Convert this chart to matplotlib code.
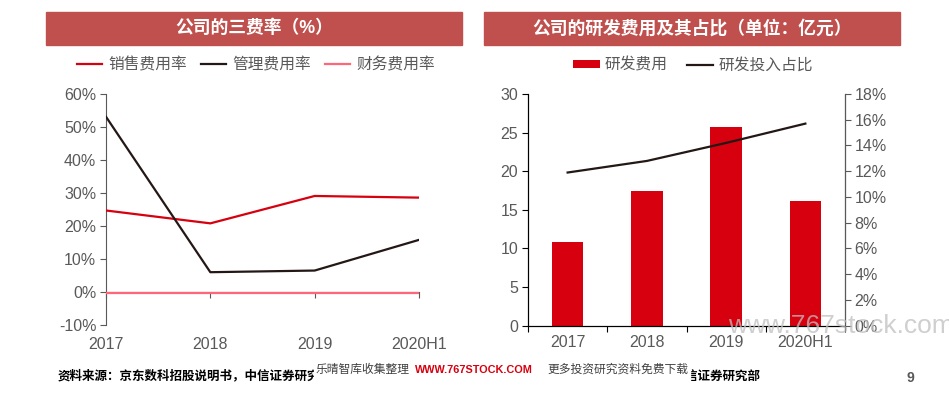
import matplotlib
matplotlib.use("Agg")
import matplotlib.pyplot as plt
import matplotlib.transforms as mtransforms
from matplotlib.patches import Rectangle
from matplotlib.ticker import FuncFormatter

plt.rcParams['font.family'] = ['Liberation Sans', 'Noto Sans CJK SC', 'DejaVu Sans']

# ---------------- data ----------------
years = ['2017', '2018', '2019', '2020H1']
sales_rate = [24.7, 20.8, 29.1, 28.6]
mgmt_rate = [53.1, 6.0, 6.5, 15.8]
fin_rate = [-0.2, -0.2, -0.2, -0.2]
rd_expense = [10.8, 17.45, 25.7, 16.2]
rd_ratio = [11.9, 12.8, 14.2, 15.7]

left_title = '公司的三费率（%）'
right_title = '公司的研发费用及其占比（单位：亿元）'
left_legend = ['销售费用率', '管理费用率', '财务费用率']
right_legend = ['研发费用', '研发投入占比']

RED = '#D7000F'
BLACK = '#231815'
PINK = '#FF6677'
GRAY = '#595959'
BAR_TITLE = '#C0504D'

W, H = 949, 396
fig = plt.figure(figsize=(W / 100, H / 100), dpi=100)


def fx(px):
    return px / W


def fy(py):
    return 1 - py / H


# ---------------- title bars ----------------
for x0, x1, t in [(46, 462, left_title), (484, 900, right_title)]:
    fig.patches.append(Rectangle((fx(x0), fy(45)), fx(x1 - x0), (45 - 12) / H,
                                 transform=fig.transFigure, color=BAR_TITLE, zorder=0))
    fig.text(fx((x0 + x1) / 2), fy(28.5), t, color='white', fontsize=12.8,
             fontweight='bold', ha='center', va='center')

# ---------------- left chart ----------------
ax1 = fig.add_axes([fx(106), fy(325), fx(419 - 106), (325 - 94) / H])
x = list(range(len(years)))
l1, = ax1.plot(x, sales_rate, color=RED, lw=1.6, label=left_legend[0], zorder=3)
l2, = ax1.plot(x, mgmt_rate, color=BLACK, lw=1.6, label=left_legend[1], zorder=3)
l3, = ax1.plot(x, fin_rate, color=PINK, lw=1.6, label=left_legend[2], zorder=4)
ax1.set_xlim(0, 3)
ax1.set_ylim(-10, 60)
ax1.set_yticks(range(-10, 61, 10))
ax1.yaxis.set_major_formatter(FuncFormatter(lambda v, p: f'{int(v)}%'))
for s in ['top', 'right']:
    ax1.spines[s].set_visible(False)
ax1.spines['bottom'].set_position(('data', 0))
ax1.spines['left'].set_color(GRAY)
ax1.spines['bottom'].set_color(GRAY)
ax1.set_xticks(x)
ax1.tick_params(axis='x', direction='out', length=4, color=GRAY, labelbottom=False)
ax1.tick_params(axis='y', direction='out', length=4, color=GRAY, labelcolor=GRAY,
                labelsize=11.5, pad=3)
trans = mtransforms.blended_transform_factory(ax1.transData, ax1.transAxes)
for i, yr in enumerate(years):
    ax1.text(i, -0.05, yr, transform=trans, ha='center', va='top', fontsize=11.5,
             color=GRAY, clip_on=False)
ax1.legend(handles=[l1, l2, l3], loc='center', bbox_to_anchor=(fx(256), fy(65)),
           bbox_transform=fig.transFigure, ncol=3, frameon=False, fontsize=11.3,
           handlelength=1.6, handletextpad=0.4, columnspacing=0.9,
           labelcolor=GRAY)

# ---------------- right chart ----------------
ax2 = fig.add_axes([fx(528), fy(325.7), fx(845 - 528), (325.7 - 94) / H])
bars = ax2.bar(x, rd_expense, width=0.4, color=RED, label=right_legend[0], zorder=2)
ax2.set_xlim(-0.5, 3.5)
ax2.set_ylim(0, 30)
ax2.set_yticks(range(0, 31, 5))
ax2.spines['top'].set_visible(False)
ax2.set_xticks([i - 0.5 for i in range(len(years) + 1)])
ax2.set_xticklabels([])
ax2.set_xticks(x, minor=True)
ax2.set_xticklabels(years, minor=True)
ax2.tick_params(axis='x', which='major', direction='out', length=4)
ax2.tick_params(axis='x', which='minor', length=0, labelsize=11.5, labelcolor=GRAY, pad=7)
ax2.tick_params(axis='y', direction='out', length=4, labelcolor=GRAY, labelsize=11.5, pad=3)

ax3 = ax2.twinx()
l4, = ax3.plot(x, rd_ratio, color=BLACK, lw=1.6, label=right_legend[1], zorder=3)
ax3.set_ylim(0, 18)
ax3.set_yticks(range(0, 19, 2))
ax3.yaxis.set_major_formatter(FuncFormatter(lambda v, p: f'{int(v)}%'))
ax3.spines['top'].set_visible(False)
ax3.spines['right'].set_color(GRAY)
ax3.tick_params(axis='y', direction='out', length=4, color=GRAY, labelcolor=GRAY,
                labelsize=11.5, pad=3)
ax3.legend(handles=[bars, l4], loc='center', bbox_to_anchor=(fx(693), fy(65)),
           bbox_transform=fig.transFigure, ncol=2, frameon=False, fontsize=11.3,
           handlelength=1.7, handleheight=0.5, handletextpad=0.3, columnspacing=1.2,
           labelcolor=GRAY)

# ---------------- footer ----------------
src = '资料来源：京东数科招股说明书，中信证券研究部'
fig.text(fx(58), fy(376), src, fontsize=9, fontweight='bold', color='black',
         ha='left', va='center')
fig.text(fx(486), fy(376), src, fontsize=9, fontweight='bold', color='black',
         ha='left', va='center')
fig.patches.append(Rectangle((fx(314), fy(383)), fx(690 - 314), 19 / H,
                             transform=fig.transFigure, color='white', zorder=5))
fig.text(fx(316), fy(370), '乐晴智库收集整理', fontsize=8.5, color='#404040',
         ha='left', va='center', zorder=6)
fig.text(fx(415), fy(370), 'WWW.767STOCK.COM', fontsize=7.8, color='#D7000F',
         fontweight='bold', ha='left', va='center', zorder=6)
fig.text(fx(547), fy(370), '更多投资研究资料免费下载', fontsize=8.5, color='#404040',
         ha='left', va='center', zorder=6)
fig.text(fx(910), fy(378), '9', fontsize=10, fontweight='bold', color=GRAY,
         ha='center', va='center')
fig.text(fx(728), fy(333), 'www.767stock.com', fontsize=19, color='#BFBFBF',
         alpha=0.75, ha='left', va='baseline', zorder=10)

fig.savefig('out.png', dpi=100)
